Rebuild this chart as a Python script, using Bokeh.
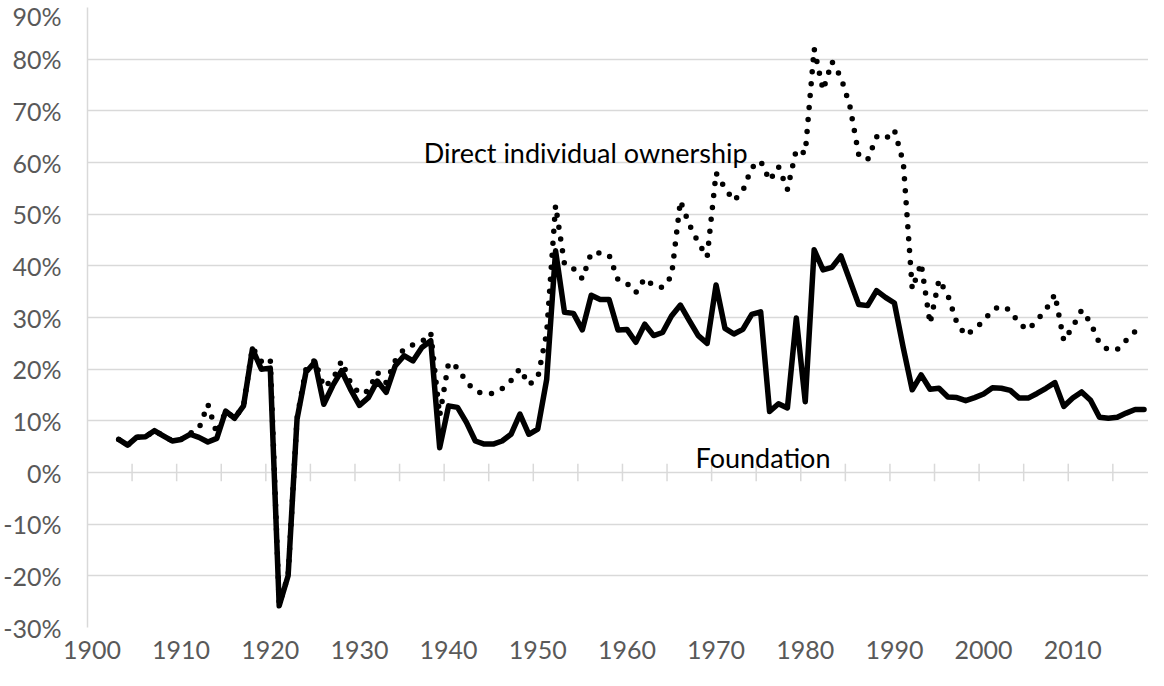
from bokeh.plotting import figure
from bokeh.models import FixedTicker, PrintfTickFormatter, Label, Range1d
from bokeh.embed import file_html
from bokeh.resources import INLINE

years = list(range(1903, 2019))

direct = [
    6.4, 5.3, 6.8, 6.9, 8.1, 7.1, 6.1, 6.4, 7.6, 8.5,          # 1903-1912
    13.2, 7.5, 11.9, 10.5, 12.9, 24.2, 21.5, 22.0, -25.5, -20.0,  # 1913-1922
    10.5, 20.0, 21.8, 16.5, 18.0, 21.6, 17.4, 15.2, 15.8, 19.4,  # 1923-1932
    17.4, 21.6, 23.9, 24.7, 25.3, 27.0, 11.0, 21.3, 20.3, 17.5,  # 1933-1942
    15.8, 15.2, 15.3, 16.2, 17.8, 20.1, 17.0, 18.3, 27.0, 51.7,  # 1943-1952
    40.3, 39.5, 37.5, 42.5, 42.5, 42.1, 37.3, 36.6, 34.8, 37.6,  # 1953-1962
    36.1, 35.8, 38.0, 52.6, 48.0, 44.5, 41.7, 58.0, 55.0, 52.6,  # 1963-1972
    54.5, 59.0, 60.3, 56.5, 59.2, 54.8, 62.5, 61.8, 82.0, 74.0,  # 1973-1982
    79.5, 76.5, 71.0, 61.5, 60.5, 65.0, 64.5, 66.3, 60.0, 35.5,  # 1983-1992
    40.5, 28.8, 37.3, 34.3, 29.0, 26.5, 27.8, 29.3, 31.5, 32.2,  # 1993-2002
    31.4, 28.8, 27.6, 29.5, 31.5, 34.5, 25.5, 28.2, 31.4, 29.0,  # 2003-2012
    25.0, 23.7, 23.8, 25.6, 27.3, 28.3,                          # 2013-2018
]

foundation = [
    6.4, 5.3, 6.8, 6.9, 8.1, 7.1, 6.1, 6.4, 7.4, 6.8,           # 1903-1912
    5.9, 6.6, 11.9, 10.5, 12.9, 23.9, 20.0, 20.2, -25.8, -20.0,  # 1913-1922
    10.3, 19.4, 21.4, 13.2, 16.8, 19.7, 16.1, 13.0, 14.5, 17.7,  # 1923-1932
    15.5, 20.6, 22.6, 21.6, 24.2, 25.5, 4.8, 12.9, 12.6, 9.7,    # 1933-1942
    6.1, 5.5, 5.5, 6.1, 7.4, 11.3, 7.4, 8.4, 18.0, 42.9,         # 1943-1952
    31.0, 30.8, 27.6, 34.3, 33.5, 33.5, 27.6, 27.7, 25.2, 28.7,  # 1953-1962
    26.5, 27.1, 30.3, 32.4, 29.4, 26.5, 25.0, 36.3, 27.9, 26.8,  # 1963-1972
    27.7, 30.6, 31.1, 11.8, 13.3, 12.5, 29.9, 13.7, 43.1, 39.2,  # 1973-1982
    39.7, 41.9, 37.2, 32.5, 32.3, 35.2, 33.9, 32.8, 24.1, 16.0,  # 1983-1992
    18.9, 16.1, 16.3, 14.6, 14.5, 13.9, 14.5, 15.2, 16.4, 16.3,  # 1993-2002
    15.9, 14.4, 14.4, 15.3, 16.3, 17.4, 12.8, 14.4, 15.6, 14.0,  # 2003-2012
    10.7, 10.5, 10.7, 11.5, 12.2, 12.2,                          # 2013-2018
]

x_label_years = [1900, 1910, 1920, 1930, 1940, 1950, 1960, 1970, 1980, 1990, 2000, 2010]
y_ticks = [-30, -20, -10, 0, 10, 20, 30, 40, 50, 60, 70, 80, 90]

series_labels = ["Direct individual ownership", "Foundation"]

FONT = "Lato"
GRID = "#d9d9d9"
TICK_TEXT = "#595959"

first_cat = 1900
last_cat = 2018

p = figure(
    width=1148, height=670, title=None,
    output_backend="svg", toolbar_location=None,
    x_range=Range1d(first_cat - 0.5, last_cat + 0.5),
    y_range=Range1d(-30, 90),
    min_border_left=84, min_border_right=0, min_border_top=7, min_border_bottom=43,
)
p.outline_line_color = None
p.background_fill_color = "white"
p.border_fill_color = "white"

# grid
p.xgrid.visible = False
p.ygrid.ticker = FixedTicker(ticks=y_ticks)
p.ygrid.grid_line_color = GRID
p.ygrid.grid_line_width = 1.5

# y axis
yax = p.yaxis[0]
yax.ticker = FixedTicker(ticks=y_ticks)
yax.formatter = PrintfTickFormatter(format="%d%%")
yax.axis_line_color = GRID
yax.axis_line_width = 1.5
yax.major_tick_line_color = None
yax.minor_tick_line_color = None
yax.major_tick_out = 0
yax.major_tick_in = 0
yax.major_label_standoff = 26
yax.major_label_text_font = FONT
yax.major_label_text_font_size = "25px"
yax.major_label_text_color = TICK_TEXT

# x axis (labels at the bottom)
xax = p.xaxis[0]
xax.ticker = FixedTicker(ticks=x_label_years)
xax.axis_line_color = None
xax.major_tick_line_color = None
xax.minor_tick_line_color = None
xax.major_tick_out = 0
xax.major_tick_in = 0
xax.major_label_standoff = 13
xax.major_label_text_font = FONT
xax.major_label_text_font_size = "25px"
xax.major_label_text_color = TICK_TEXT

# tick marks on the zero line, between categories every 5 years
tick_x = [y - 0.5 for y in range(first_cat + 5, last_cat + 1, 5)]
p.segment(x0=tick_x, y0=[-1.7] * len(tick_x), x1=tick_x, y1=[1.7] * len(tick_x),
          line_color=GRID, line_width=1.5)

# series
p.line(years, direct, line_color="black", line_width=5.5, line_dash="0 12",
       line_cap="round", line_join="round")
p.line(years, foundation, line_color="black", line_width=5.5,
       line_join="round", line_cap="round")

p.add_layout(Label(x=1937.2, y=61.9, text=series_labels[0], text_font=FONT,
                   text_font_size="27px", text_color="black",
                   text_baseline="alphabetic", text_align="left"))
p.add_layout(Label(x=1967.7, y=2.9, text=series_labels[1], text_font=FONT,
                   text_font_size="27px", text_color="black",
                   text_baseline="alphabetic", text_align="left"))

open("out.html", "w").write(file_html(p, INLINE))
